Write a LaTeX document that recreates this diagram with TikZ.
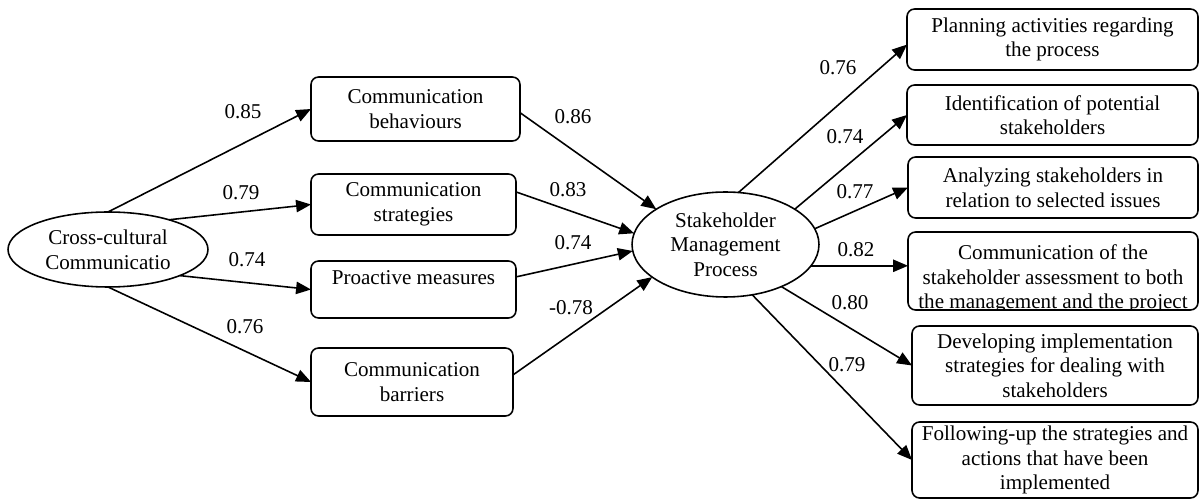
\documentclass[tikz,border=0pt]{standalone}
\usepackage{fontspec}
\setmainfont{Liberation Serif}
\usetikzlibrary{arrows.meta,shapes.geometric}

\begin{document}
\begin{tikzpicture}[x=0.02cm,y=-0.02cm,
  every node/.style={font=\fontsize{12}{14}\selectfont},
  box/.style={draw, line width=0.9pt, rounded corners=4.3pt, inner sep=0pt, outer sep=0pt, align=center},
  oval/.style={draw, ellipse, line width=0.9pt, inner sep=0pt, outer sep=0pt, align=center},
  link/.style={line width=0.9pt, -{Triangle[length=8.5pt,width=7pt]}},
  coef/.style={inner sep=0pt}]
\useasboundingbox (0,0) rectangle (1200,499);

% latent constructs
\node[oval, minimum width=4cm, minimum height=1.5cm] (cc) at (108,249.5) {Cross-cultural\\Communicatio};
\node[oval, minimum width=3.74cm, minimum height=2.1cm] (sm) at (725.5,244.5) {Stakeholder\\Management\\Process};

% cross-cultural communication indicators
\node[box, minimum width=4.18cm, minimum height=1.28cm] (cb) at (415.5,109) {Communication\\behaviours};
\node[box, minimum width=4.10cm, minimum height=1.22cm] (cs) at (413.5,204.5) {Communication\\strategies};
\node[box, minimum width=4.10cm, minimum height=1.14cm] (pm) at (413.5,289.5) {Proactive measures\\\mbox{}};
\node[box, minimum width=4.04cm, minimum height=1.36cm] (br) at (412,382) {Communication\\barriers};

% stakeholder management indicators
\node[box, minimum width=5.82cm, minimum height=1.22cm] (pa) at (1052.5,39.5) {Planning activities regarding\\the process};
\node[box, minimum width=5.82cm, minimum height=1.2cm] (ip) at (1052.5,115) {Identification of potential\\stakeholders};
\node[box, minimum width=5.8cm, minimum height=1.22cm] (an) at (1053,187.5) {Analyzing stakeholders in\\relation to selected issues};
\node[box, minimum width=5.8cm, minimum height=1.56cm] (ca) at (1053,271) {};
\begin{scope}
  \clip[rounded corners=4.3pt] (ca.north west) rectangle (ca.south east);
  \node[anchor=north, inner sep=0pt, align=center] (cat) at (1053,244.5) {Communication of the\\stakeholder assessment to both\\the management and the project};
\end{scope}
\node[box, minimum width=5.72cm, minimum height=1.58cm] (dv) at (1055,365.5) {Developing implementation\\strategies for dealing with\\stakeholders};
\node[box, minimum width=5.72cm, minimum height=1.52cm] (fu) at (1055,460) {Following-up the strategies and\\actions that have been\\implemented};

% paths
\draw[link] (cc.90) -- (cb.west);
\draw[link] (cc.26) -- (cs.west);
\draw[link] (cc.-20) -- (pm.west);
\draw[link] (cc.-90) -- (br.west);

\draw[link] (cb.-2) -- (sm.153);
\draw[link] (cs.7) -- (sm.173);
\draw[link] (pm.7) -- (sm.184.6);
\draw[link] (br.4) -- (sm.204.8);

\draw[link] (sm.76.6) -- (pa.182);
\draw[link] (sm.27) -- (ip.west);
\draw[link] (sm.10) -- (an.west);
\draw[link] (sm.-14.4) -- (sm.-14.4 -| ca.west);
\draw[link] (sm.-37.6) -- (dv.west);
\draw[link] (sm.-62.4) -- (fu.west);

% loadings
\node[coef] (k1) at (243,112) {0.85};
\node[coef] (k2) at (241,193) {0.79};
\node[coef] (k3) at (247,260) {0.74};
\node[coef] (k4) at (245,327) {0.76};
\node[coef] (k5) at (573,117) {0.86};
\node[coef] (k6) at (568,190) {0.83};
\node[coef] (k7) at (573,243) {0.74};
\node[coef] (k8) at (571,308) {-0.78};
\node[coef] (k9) at (838,68) {0.76};
\node[coef] (k10) at (845,137) {0.74};
\node[coef] (k11) at (855,192) {0.77};
\node[coef] (k12) at (856,250) {0.82};
\node[coef] (k13) at (850,303) {0.80};
\node[coef] (k14) at (847,365) {0.79};
\end{tikzpicture}
\end{document}
